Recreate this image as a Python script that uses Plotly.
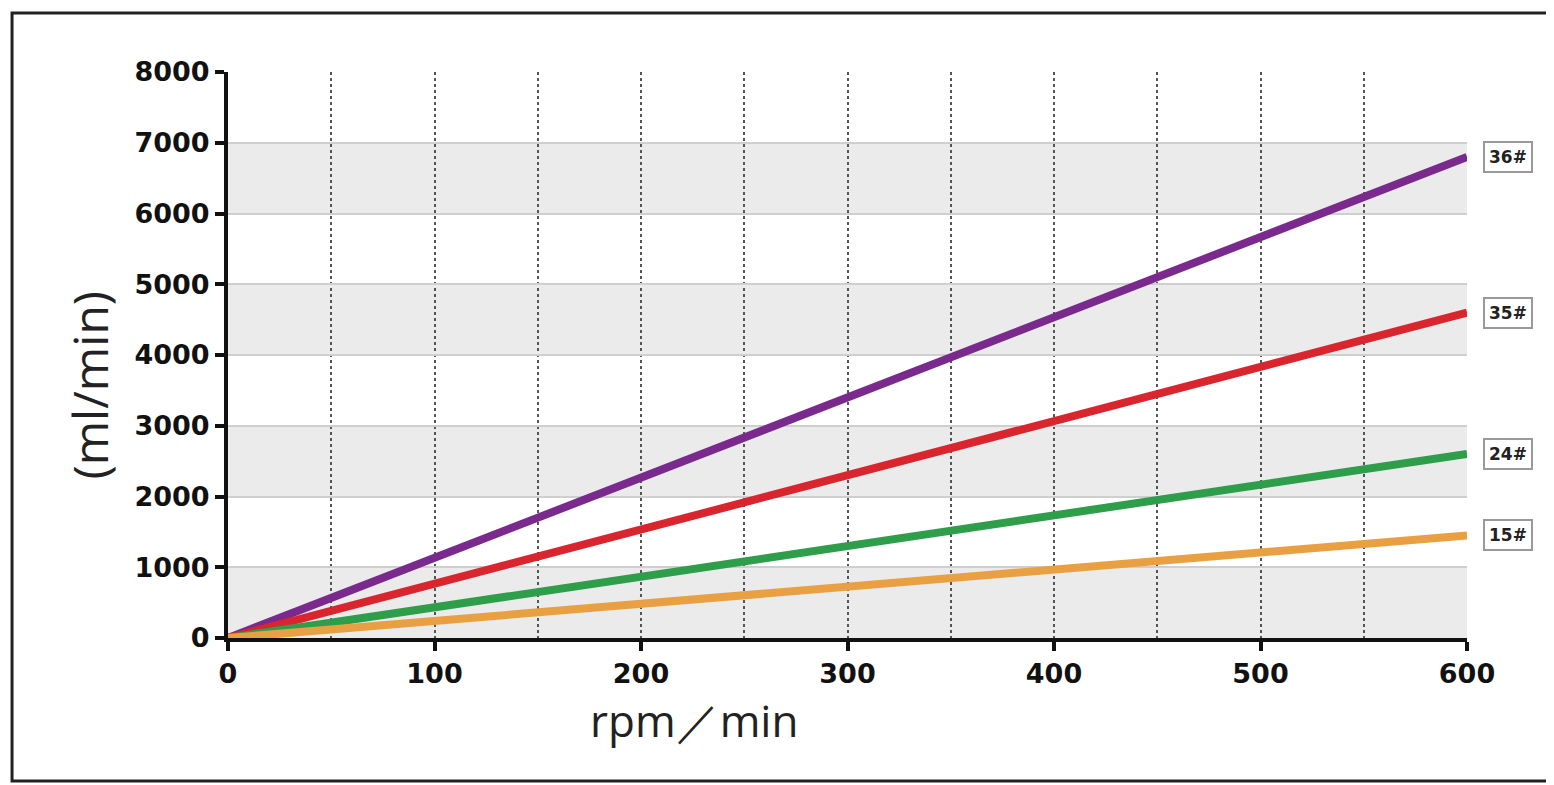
import plotly.graph_objects as go

# data
rpm = [0, 600]
series_names = ["36#", "35#", "24#", "15#"]
flow_36 = [0, 6800]
flow_35 = [0, 4600]
flow_24 = [0, 2600]
flow_15 = [0, 1450]
colors = ["#7a2a8c", "#d9262e", "#2e9e4a", "#e9a043"]
band_starts = [0, 2000, 4000, 6000]
band_height = 1000

all_flows = [flow_36, flow_35, flow_24, flow_15]

fig = go.Figure()

for name, ys, c in zip(series_names, all_flows, colors):
    fig.add_trace(go.Scatter(x=rpm, y=ys, mode="lines", name=name,
                             line=dict(color=c, width=8), showlegend=False,
                             cliponaxis=False))

shapes = []
for b in band_starts:
    shapes.append(dict(type="rect", xref="x", yref="y", x0=0, x1=600, y0=b, y1=b + band_height,
                       fillcolor="#ebebeb", line=dict(width=0), layer="below"))
# outer frame
shapes.append(dict(type="rect", xref="paper", yref="paper", x0=-0.1743, x1=1.075, y0=-0.2527, y1=1.1042,
                   line=dict(color="#222", width=3), fillcolor="rgba(0,0,0,0)"))

annotations = []
for name, ys in zip(series_names, all_flows):
    annotations.append(dict(x=rpm[-1], y=ys[-1], xref="x", yref="y", text="<b>" + name + "</b>",
                            showarrow=False, xanchor="left", xshift=16,
                            font=dict(family="DejaVu Sans", size=17, color="#222"),
                            bgcolor="white", bordercolor="#9a9a9a", borderwidth=2, borderpad=4))

annotations.append(dict(x=0.376, y=-0.145, xref="paper", yref="paper", text="rpm／min",
                        showarrow=False, xanchor="center", yanchor="middle",
                        font=dict(family="Open Sans", size=44, color="#222")))
annotations.append(dict(x=-0.111, y=0.447, xref="paper", yref="paper", text="(ml/min)",
                        showarrow=False, textangle=-90, xanchor="center", yanchor="middle",
                        font=dict(family="Open Sans", size=48, color="#222")))

fig.update_layout(
    width=1546, height=777,
    margin=dict(l=220, r=87, t=64, b=147),
    paper_bgcolor="white", plot_bgcolor="white",
    shapes=shapes, annotations=annotations,
    font=dict(family="DejaVu Sans", color="#222"),
)

tickfont = dict(family="DejaVu Sans", size=27, color="#111", weight="bold")
fig.update_xaxes(range=[0, 600], dtick=100, tick0=0, showline=True, linecolor="#111", linewidth=4,
                 ticks="outside", ticklen=9, tickwidth=4, tickcolor="#111",
                 showgrid=True, gridcolor="#555", griddash="dot", gridwidth=2,
                 minor=dict(dtick=50, showgrid=True, gridcolor="#555", griddash="dot", gridwidth=2, ticks=""),
                 tickfont=tickfont, zeroline=False)
fig.update_yaxes(range=[0, 8000], dtick=1000, tick0=0, showline=True, linecolor="#111", linewidth=4,
                 ticks="outside", ticklen=9, tickwidth=4, tickcolor="#111",
                 showgrid=True, gridcolor="#cfcfcf", gridwidth=2,
                 tickfont=tickfont, zeroline=False)

fig.write_html("out.html")
